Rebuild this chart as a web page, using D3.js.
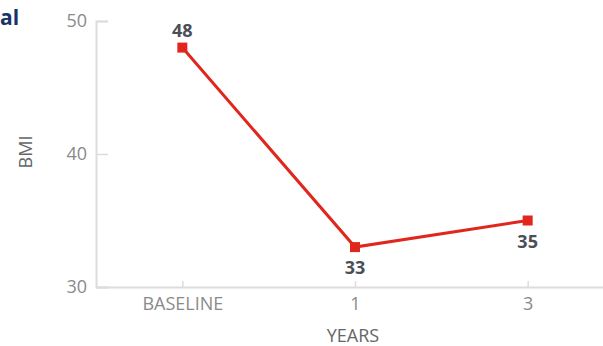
<!DOCTYPE html>
<html>
<head>
<meta charset="utf-8">
<script src="https://cdn.jsdelivr.net/npm/d3@7"></script>
<style>
  body { margin: 0; background: #fff; }
  svg { display: block; font-family: "Open Sans", sans-serif; }
</style>
</head>
<body>
<svg id="chart" width="603" height="346"></svg>
<script>
// data
const categories = ["BASELINE", "1", "3"];
const bmiValues = [48, 33, 35];
const yTicks = [30, 40, 50];

const svg = d3.select("#chart");
const plotLeft = 96, plotTop = 21, plotBottom = 287, plotRight = 614;

const x = d3.scalePoint().domain(categories).range([plotLeft, plotRight]).padding(0.5);
const y = d3.scaleLinear().domain([30, 50]).range([plotBottom, plotTop]);

// cut-off title from the original page
svg.append("text")
  .attr("x", 0).attr("y", 25)
  .attr("fill", "#18336a")
  .attr("font-weight", "bold")
  .style("font-size", "21px")
  .text("al");

// y axis
const yAxis = svg.append("g")
  .attr("transform", "translate(" + plotLeft + ",0)")
  .call(d3.axisLeft(y).tickValues(yTicks).tickSize(-12).tickSizeOuter(-12).tickPadding(9));
yAxis.select(".domain").attr("stroke", "#dcdcdc").attr("stroke-width", 2);
yAxis.selectAll(".tick line").attr("stroke", "#dcdcdc").attr("stroke-width", 1.5);
yAxis.selectAll(".tick text")
  .attr("fill", "#8a8a8a")
  .style("font-size", "18px")
  .style("font-family", "Open Sans, sans-serif")
  .attr("x", -9);

// x axis
const xAxis = svg.append("g")
  .attr("transform", "translate(0," + plotBottom + ")")
  .call(d3.axisBottom(x).tickSize(-6).tickSizeOuter(0).tickPadding(10));
xAxis.select(".domain").attr("stroke", "#dcdcdc").attr("stroke-width", 2);
xAxis.selectAll(".tick line").attr("stroke", "#dcdcdc").attr("stroke-width", 1.5);
xAxis.selectAll(".tick text")
  .attr("fill", "#8a8a8a")
  .style("font-size", "18px")
  .style("font-family", "Open Sans, sans-serif")
  .attr("y", 10)
  .attr("dy", "0.71em");

// axis titles
svg.append("text")
  .attr("transform", "translate(32,152) rotate(-90)")
  .attr("text-anchor", "middle")
  .attr("fill", "#666")
  .style("font-size", "18px")
  .text("BMI");

svg.append("text")
  .attr("x", 353).attr("y", 342)
  .attr("text-anchor", "middle")
  .attr("fill", "#666")
  .style("font-size", "18px")
  .text("YEARS");

// line
const pts = categories.map((c, i) => ({ c: c, v: bmiValues[i] }));
svg.append("path")
  .datum(pts)
  .attr("fill", "none")
  .attr("stroke", "#e0261d")
  .attr("stroke-width", 3)
  .attr("d", d3.line().x(d => x(d.c)).y(d => y(d.v)));

svg.selectAll("rect.pt").data(pts).enter()
  .append("rect")
  .attr("class", "pt")
  .attr("x", d => x(d.c) - 5)
  .attr("y", d => y(d.v) - 5)
  .attr("width", 10).attr("height", 10)
  .attr("fill", "#e0261d");

// value labels: first above, rest below
svg.selectAll("text.val").data(pts).enter()
  .append("text")
  .attr("class", "val")
  .attr("x", d => x(d.c))
  .attr("y", (d, i) => i === 0 ? y(d.v) - 11 : y(d.v) + 27)
  .attr("text-anchor", "middle")
  .attr("fill", "#4b4f58")
  .attr("font-weight", "bold")
  .style("font-size", "18px")
  .text(d => d.v);
</script>
</body>
</html>
